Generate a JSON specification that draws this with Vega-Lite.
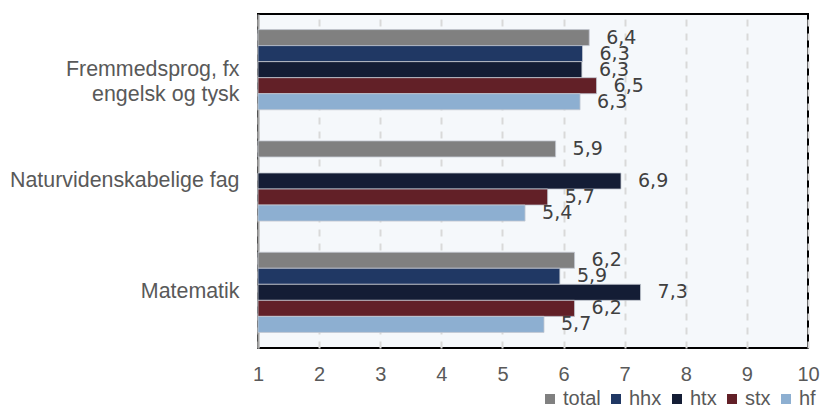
{
  "$schema": "https://vega.github.io/schema/vega-lite/v6.json",
  "width": 550,
  "height": 334,
  "autosize": "none",
  "padding": {"left": 258, "top": 14, "right": 12, "bottom": 60},
  "background": "#ffffff",
  "data": {
    "values": [
      {"fag": "Fremmedsprog, fx engelsk og tysk", "skole": "total", "v": 6.42},
      {"fag": "Fremmedsprog, fx engelsk og tysk", "skole": "hhx", "v": 6.31},
      {"fag": "Fremmedsprog, fx engelsk og tysk", "skole": "htx", "v": 6.3},
      {"fag": "Fremmedsprog, fx engelsk og tysk", "skole": "stx", "v": 6.54},
      {"fag": "Fremmedsprog, fx engelsk og tysk", "skole": "hf", "v": 6.27},
      {"fag": "Naturvidenskabelige fag", "skole": "total", "v": 5.87},
      {"fag": "Naturvidenskabelige fag", "skole": "htx", "v": 6.94},
      {"fag": "Naturvidenskabelige fag", "skole": "stx", "v": 5.74},
      {"fag": "Naturvidenskabelige fag", "skole": "hf", "v": 5.37},
      {"fag": "Matematik", "skole": "total", "v": 6.18},
      {"fag": "Matematik", "skole": "hhx", "v": 5.94},
      {"fag": "Matematik", "skole": "htx", "v": 7.26},
      {"fag": "Matematik", "skole": "stx", "v": 6.18},
      {"fag": "Matematik", "skole": "hf", "v": 5.68}
    ]
  },
  "encoding": {
    "y": {
      "field": "fag",
      "type": "nominal",
      "sort": ["Fremmedsprog, fx engelsk og tysk", "Naturvidenskabelige fag", "Matematik"],
      "scale": {"paddingInner": 0.28, "paddingOuter": 0.14},
      "axis": {
        "title": null,
        "ticks": false,
        "domain": true,
        "domainColor": "#a6a6a6",
        "domainWidth": 2,
        "labelFont": "Liberation Sans",
        "labelFontSize": 21.4,
        "labelColor": "#595959",
        "labelPadding": 19,
        "labelLimit": 300,
        "labelLineHeight": 25,
        "labelExpr": "datum.value == 'Fremmedsprog, fx engelsk og tysk' ? ['Fremmedsprog, fx', 'engelsk og tysk'] : datum.value"
      }
    },
    "yOffset": {
      "field": "skole",
      "type": "nominal",
      "sort": ["total", "hhx", "htx", "stx", "hf"],
      "scale": {"paddingInner": 0, "paddingOuter": 0}
    },
    "x": {
      "field": "v",
      "type": "quantitative",
      "scale": {"domain": [1, 10], "nice": false, "zero": false},
      "axis": {
        "title": null,
        "values": [1, 2, 3, 4, 5, 6, 7, 8, 9, 10],
        "ticks": false,
        "domain": false,
        "grid": true,
        "gridColor": "#d9d9d9",
        "gridWidth": 2,
        "gridDash": [7, 7],
        "labelFont": "Liberation Sans",
        "labelFontSize": 20,
        "labelColor": "#595959",
        "labelPadding": 16,
        "labelFlush": false
      }
    }
  },
  "layer": [
    {
      "mark": {"type": "bar", "stroke": "#c3c8d0", "strokeWidth": 0.8},
      "encoding": {
        "x2": {"datum": 1},
        "color": {
          "field": "skole",
          "type": "nominal",
          "sort": ["total", "hhx", "htx", "stx", "hf"],
          "scale": {
            "domain": ["total", "hhx", "htx", "stx", "hf"],
            "range": ["#808080", "#203864", "#141d35", "#622027", "#8dafd1"]
          },
          "legend": {
            "title": null,
            "orient": "none",
            "direction": "horizontal",
            "legendX": 282,
            "legendY": 375,
            "symbolType": "square",
            "symbolSize": 100,
            "symbolStrokeWidth": 0,
            "labelFont": "Liberation Sans",
            "labelFontSize": 20,
            "labelColor": "#595959",
            "labelOffset": 3,
            "columnPadding": 5
          }
        }
      }
    },
    {
      "mark": {
        "type": "text",
        "align": "left",
        "baseline": "middle",
        "dx": 17,
        "font": "DejaVu Sans",
        "fontSize": 19,
        "color": "#404040"
      },
      "encoding": {
        "text": {"field": "v", "type": "quantitative", "format": ".1f"}
      }
    }
  ],
  "config": {
    "locale": {
      "number": {
        "decimal": ",",
        "thousands": ".",
        "grouping": [3],
        "currency": ["", " kr."]
      }
    },
    "view": {"fill": "#f5f8fb", "stroke": "#000000", "strokeWidth": 2}
  }
}
